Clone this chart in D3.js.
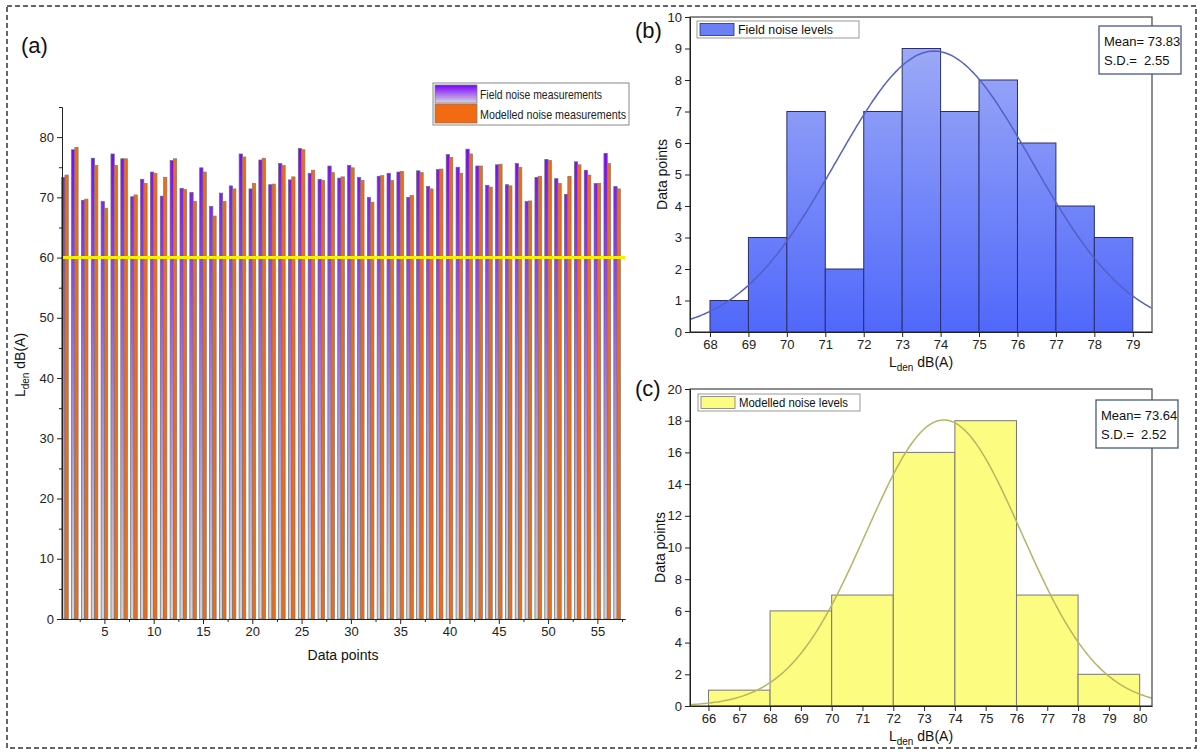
<!DOCTYPE html>
<html>
<head>
<meta charset="utf-8">
<script src="https://cdn.jsdelivr.net/npm/d3@7"></script>
<style>
  body { margin: 0; background: #fff; }
  svg { font-family: "Liberation Sans", Arial, sans-serif; }
  .tick text { font-size: 13px; fill: #222; }
  .domain, .tick line { stroke: #222; }
</style>
</head>
<body>
<svg id="chart" width="1202" height="754"></svg>
<script>
// ---- data: panel (a) ----
var fieldNoise = [73.3, 77.9, 69.5, 76.5, 69.3, 77.2, 76.4, 70.1, 73.0, 74.2,
  70.2, 76.1, 71.5, 70.8, 74.9, 68.5, 70.7, 71.9, 77.2, 71.4,
  76.2, 72.1, 75.6, 72.9, 78.1, 74.0, 73.0, 75.2, 73.2, 75.3,
  73.3, 70.0, 73.5, 74.0, 74.2, 70.0, 74.4, 71.8, 74.6, 77.1,
  75.0, 78.0, 75.2, 72.0, 75.4, 72.1, 75.6, 69.3, 73.3, 76.3,
  73.1, 70.5, 75.9, 74.5, 72.3, 77.3, 71.8];
var modelledNoise = [73.7, 78.3, 69.7, 75.3, 68.2, 75.3, 76.4, 70.4, 72.3, 74.0,
  73.3, 76.4, 71.3, 69.3, 74.2, 66.9, 69.3, 71.4, 76.7, 72.3,
  76.5, 72.2, 75.3, 73.4, 77.9, 74.5, 72.8, 74.1, 73.4, 74.9,
  72.8, 69.2, 73.6, 72.8, 74.3, 70.3, 74.1, 71.4, 74.7, 76.6,
  74.0, 77.2, 75.2, 71.7, 75.5, 71.9, 75.0, 69.4, 73.5, 76.1,
  72.3, 73.5, 75.4, 73.7, 72.3, 75.6, 71.4];
var limitLine = 60;

// ---- data: panel (b) ----
var fieldBinStarts = [68, 69, 70, 71, 72, 73, 74, 75, 76, 77, 78];
var fieldCounts = [1, 3, 7, 2, 7, 9, 7, 8, 6, 4, 3];
var fieldBinWidth = 1;
var fieldMean = 73.83, fieldSD = 2.55;

// ---- data: panel (c) ----
var modelBinStarts = [66, 68, 70, 72, 74, 76, 78];
var modelCounts = [1, 6, 7, 16, 18, 7, 2];
var modelBinWidth = 2;
var modelMean = 73.64, modelSD = 2.52;

var svg = d3.select("#chart");
var defs = svg.append("defs");

// outer dashed frame
svg.append("rect")
  .attr("x", 7).attr("y", 6).attr("width", 1189).attr("height", 742)
  .attr("fill", "none").attr("stroke", "#333").attr("stroke-width", 1.5)
  .attr("stroke-dasharray", "5,3");

function ldenLabel(g, x, y, rotate) {
  var t = g.append("text")
    .attr("transform", "translate(" + x + "," + y + ")" + (rotate ? " rotate(-90)" : ""))
    .attr("text-anchor", "middle")
    .style("font-size", "14px").attr("fill", "#111");
  t.append("tspan").text("L");
  t.append("tspan").text("den").style("font-size", "10px").attr("dy", 4);
  t.append("tspan").text(" dB(A)").attr("dy", -4);
  return t;
}

// ================= panel (a) =================
var xA = d3.scaleLinear().domain([0.7, 57.8]).range([62, 625]);
var yA = d3.scaleLinear().domain([0, 85]).range([619, 107]);
var barW = 0.335;

var gradP = defs.append("linearGradient").attr("id", "gradPurple")
  .attr("gradientUnits", "userSpaceOnUse")
  .attr("x1", 0).attr("x2", 0).attr("y1", yA(80)).attr("y2", yA(0));
gradP.append("stop").attr("offset", "0%").attr("stop-color", "#7a00ff");
gradP.append("stop").attr("offset", "55%").attr("stop-color", "#a884e0");
gradP.append("stop").attr("offset", "100%").attr("stop-color", "#d4d4d8");

var gA = svg.append("g");

gA.selectAll(".barF").data(fieldNoise).enter().append("rect")
  .attr("x", function(d, i) { return xA(i + 1 - barW); })
  .attr("width", xA(barW) - xA(0))
  .attr("y", function(d) { return yA(d); })
  .attr("height", function(d) { return yA(0) - yA(d); })
  .attr("fill", "url(#gradPurple)").attr("stroke", "#6a6a6a").attr("stroke-width", 0.7);

gA.selectAll(".barM").data(modelledNoise).enter().append("rect")
  .attr("x", function(d, i) { return xA(i + 1); })
  .attr("width", xA(barW) - xA(0))
  .attr("y", function(d) { return yA(d); })
  .attr("height", function(d) { return yA(0) - yA(d); })
  .attr("fill", "#f26a12").attr("stroke", "#7a7a7a").attr("stroke-width", 0.7);

// limit line
gA.append("line")
  .attr("x1", xA.range()[0]).attr("x2", xA.range()[1])
  .attr("y1", yA(limitLine)).attr("y2", yA(limitLine))
  .attr("stroke", "#f4f000").attr("stroke-width", 3);

// axes
var yTicksA = d3.range(0, 81, 10);
gA.append("g").attr("transform", "translate(" + xA.range()[0] + ",0)")
  .call(d3.axisLeft(yA).tickValues(yTicksA).tickSize(5).tickSizeOuter(0));
gA.append("g").attr("transform", "translate(" + xA.range()[0] + ",0)")
  .call(d3.axisLeft(yA).tickValues(d3.range(5, 86, 10)).tickSize(3).tickFormat("").tickSizeOuter(0));
gA.append("g").attr("transform", "translate(0," + yA(0) + ")")
  .call(d3.axisBottom(xA).tickValues(d3.range(5, 56, 5)).tickSize(5).tickSizeOuter(0));
gA.append("g").attr("transform", "translate(0," + yA(0) + ")")
  .call(d3.axisBottom(xA).tickValues(d3.range(2.5, 58, 5)).tickSize(3).tickFormat("").tickSizeOuter(0));

gA.append("text").attr("x", 343).attr("y", 660).attr("text-anchor", "middle")
  .style("font-size", "14px").attr("fill", "#111").text("Data points");
ldenLabel(gA, 25, 365, true);
gA.append("text").attr("x", 21).attr("y", 53).style("font-size", "22px").attr("fill", "#111").text("(a)");

// legend (a)
var legA = gA.append("g").attr("transform", "translate(433,83)");
legA.append("rect").attr("width", 196).attr("height", 42)
  .attr("fill", "#fff").attr("stroke", "#888").attr("stroke-width", 1);
var gradL = defs.append("linearGradient").attr("id", "gradLeg")
  .attr("x1", 0).attr("x2", 0).attr("y1", 0).attr("y2", 1);
gradL.append("stop").attr("offset", "0%").attr("stop-color", "#7a00ff");
gradL.append("stop").attr("offset", "100%").attr("stop-color", "#d8d8dc");
legA.append("rect").attr("x", 2).attr("y", 2).attr("width", 42).attr("height", 18)
  .attr("fill", "url(#gradLeg)").attr("stroke", "#777").attr("stroke-width", 0.7);
legA.append("rect").attr("x", 2).attr("y", 21).attr("width", 42).attr("height", 19)
  .attr("fill", "#f26a12").attr("stroke", "#777").attr("stroke-width", 0.7);
legA.append("text").attr("x", 47).attr("y", 16).text("Field noise measurements")
  .attr("textLength", 122).attr("lengthAdjust", "spacingAndGlyphs")
  .style("font-size", "13px").attr("fill", "#222");
legA.append("text").attr("x", 47).attr("y", 36).text("Modelled noise measurements")
  .attr("textLength", 146).attr("lengthAdjust", "spacingAndGlyphs")
  .style("font-size", "13px").attr("fill", "#222");

// ================= histogram panels =================
function histogram(opt) {
  var g = svg.append("g");
  var x = d3.scaleLinear().domain(opt.xDomain).range([690, 1152]);
  var y = d3.scaleLinear().domain(opt.yDomain).range(opt.yRange);

  g.selectAll(".bin").data(opt.starts).enter().append("rect")
    .attr("x", function(d) { return x(d); })
    .attr("width", function(d) { return x(d + opt.binWidth) - x(d); })
    .attr("y", function(d, i) { return y(opt.counts[i]); })
    .attr("height", function(d, i) { return y(0) - y(opt.counts[i]); })
    .attr("fill", opt.fill).attr("stroke", opt.barStroke).attr("stroke-width", 1);

  // fitted normal curve
  var n = d3.sum(opt.counts);
  var pts = d3.range(opt.xDomain[0], opt.xDomain[1] + 0.001, 0.05).map(function(v) {
    var z = (v - opt.mean) / opt.sd;
    return [v, n * opt.binWidth * Math.exp(-0.5 * z * z) / (opt.sd * Math.sqrt(2 * Math.PI))];
  });
  g.append("path").datum(pts)
    .attr("d", d3.line().x(function(d) { return x(d[0]); }).y(function(d) { return y(d[1]); }))
    .attr("fill", "none").attr("stroke", opt.curve).attr("stroke-width", 1.5);

  // frame
  g.append("rect").attr("x", x.range()[0]).attr("y", y.range()[1])
    .attr("width", x.range()[1] - x.range()[0]).attr("height", y.range()[0] - y.range()[1])
    .attr("fill", "none").attr("stroke", "#444").attr("stroke-width", 1.2);

  g.append("g").attr("transform", "translate(" + x.range()[0] + ",0)")
    .call(d3.axisLeft(y).tickValues(opt.yTicks).tickSize(5).tickSizeOuter(0));
  g.append("g").attr("transform", "translate(0," + y.range()[0] + ")")
    .call(d3.axisBottom(x).tickValues(opt.xTicks).tickSize(5).tickSizeOuter(0));

  g.append("text")
    .attr("transform", "translate(" + opt.yLabelX + "," + ((y.range()[0] + y.range()[1]) / 2) + ") rotate(-90)")
    .attr("text-anchor", "middle").style("font-size", "14px").attr("fill", "#111").text("Data points");
  ldenLabel(g, 921, y.range()[0] + 35, false);
  g.append("text").attr("x", 635).attr("y", opt.tagY).style("font-size", "22px").attr("fill", "#111").text(opt.tag);

  // legend
  var leg = g.append("g").attr("transform", "translate(" + opt.legX + "," + opt.legY + ")");
  leg.append("rect").attr("width", 162).attr("height", 17)
    .attr("fill", "#fff").attr("stroke", "#999").attr("stroke-width", 1);
  leg.append("rect").attr("x", 3).attr("y", 2.5).attr("width", 34).attr("height", 12)
    .attr("fill", opt.swatch).attr("stroke", opt.barStroke).attr("stroke-width", 0.8);
  leg.append("text").attr("x", 41).attr("y", 13).style("font-size", "12px")
    .attr("textLength", opt.legLen).attr("lengthAdjust", "spacingAndGlyphs")
    .attr("fill", "#111").text(opt.legText);

  // stats box
  var st = g.append("g").attr("transform", "translate(" + opt.stX + "," + opt.stY + ")");
  st.append("rect").attr("width", 82).attr("height", 48)
    .attr("fill", "#fff").attr("stroke", opt.stStroke).attr("stroke-width", 1.2);
  st.append("text").attr("x", 5).attr("y", 20).style("font-size", "13px").style("white-space", "pre")
    .attr("fill", "#111").text("Mean= " + opt.mean.toFixed(2));
  st.append("text").attr("x", 5).attr("y", 39).style("font-size", "13px").style("white-space", "pre")
    .attr("fill", "#111").text("S.D.=  " + opt.sd.toFixed(2));
}

var gradB = defs.append("linearGradient").attr("id", "gradBlue")
  .attr("gradientUnits", "userSpaceOnUse")
  .attr("x1", 0).attr("x2", 0).attr("y1", 17).attr("y2", 332);
gradB.append("stop").attr("offset", "0%").attr("stop-color", "#a4b0f6");
gradB.append("stop").attr("offset", "100%").attr("stop-color", "#5068fb");

histogram({
  xDomain: [67.48, 79.5], yDomain: [0, 10], yRange: [332, 17],
  starts: fieldBinStarts, counts: fieldCounts, binWidth: fieldBinWidth,
  mean: fieldMean, sd: fieldSD,
  fill: "url(#gradBlue)", barStroke: "#2a2f6a", curve: "#5560c4", swatch: "#6c80f6",
  yTicks: d3.range(0, 11, 1), xTicks: d3.range(68, 80, 1),
  yLabelX: 667, tag: "(b)", tagY: 38,
  legX: 697, legY: 21, legText: "Field noise levels", legLen: 95,
  stX: 1099, stY: 26, stStroke: "#3a4a80"
});

histogram({
  xDomain: [65.4, 80.4], yDomain: [0, 20], yRange: [706, 389],
  starts: modelBinStarts, counts: modelCounts, binWidth: modelBinWidth,
  mean: modelMean, sd: modelSD,
  fill: "#fcfc80", barStroke: "#777", curve: "#b5b565", swatch: "#fcfc80",
  yTicks: d3.range(0, 21, 2), xTicks: d3.range(66, 81, 1),
  yLabelX: 665, tag: "(c)", tagY: 396,
  legX: 698, legY: 394, legText: "Modelled noise levels", legLen: 109,
  stX: 1096, stY: 400, stStroke: "#3a4a70"
});
</script>
</body>
</html>
